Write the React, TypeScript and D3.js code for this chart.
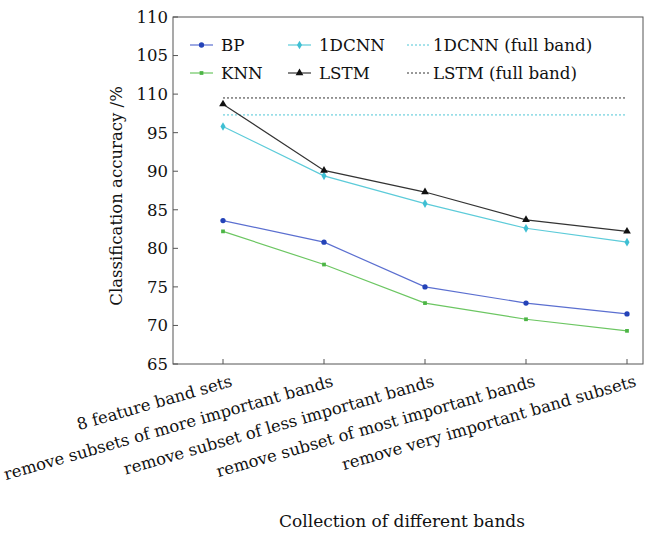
import React, { useEffect, useRef } from 'react';
import * as d3 from 'd3';

const categories = [
  '8 feature band sets',
  'remove subsets of more important bands',
  'remove subset of less important bands',
  'remove subset of most important bands',
  'remove very important band subsets',
];

const bp = [83.6, 80.8, 75.0, 72.9, 71.5];
const knn = [82.2, 77.9, 72.9, 70.8, 69.3];
const cnn1d = [95.8, 89.4, 85.8, 82.6, 80.8];
const lstm = [98.7, 90.1, 87.3, 83.7, 82.2];

const cnnFull = 97.3;
const lstmFull = 99.5;

const yTicks = [65, 70, 75, 80, 85, 90, 95, 100, 105, 110];
// the original figure prints "110" at the 100 mark
const yTickLabels = ['65', '70', '75', '80', '85', '90', '95', '110', '105', '110'];

const FONT = '"DejaVu Serif", serif';

const App = () => {
  const ref = useRef<SVGSVGElement | null>(null);

  useEffect(() => {
    const svg = d3.select(ref.current);
    svg.selectAll('*').remove();

    const left = 173, right = 643, top = 17, bottom = 364;

    const x = d3.scalePoint<string>().domain(categories).range([223, 627]);
    const y = d3.scaleLinear().domain([65, 110]).range([bottom, top]);

    // frame
    svg.append('rect')
      .attr('x', left).attr('y', top)
      .attr('width', right - left).attr('height', bottom - top)
      .attr('fill', 'none').attr('stroke', '#555').attr('stroke-width', 1);

    // y ticks
    const yt = svg.append('g');
    yTicks.forEach((v, i) => {
      yt.append('line')
        .attr('x1', left).attr('x2', left + 5)
        .attr('y1', y(v)).attr('y2', y(v))
        .attr('stroke', '#555');
      yt.append('text')
        .attr('x', left - 5).attr('y', y(v))
        .attr('dy', '0.36em')
        .attr('text-anchor', 'end')
        .attr('font-family', FONT).attr('font-size', 16.5)
        .attr('fill', '#111')
        .text(yTickLabels[i]);
    });

    // x ticks
    const xt = svg.append('g');
    categories.forEach(c => {
      xt.append('line')
        .attr('x1', x(c)!).attr('x2', x(c)!)
        .attr('y1', bottom).attr('y2', bottom - 5)
        .attr('stroke', '#555');
      xt.append('text')
        .attr('transform', `translate(${x(c)! + 7}, ${bottom + 11}) rotate(-16)`)
        .attr('text-anchor', 'end')
        .attr('dy', '0.7em')
        .attr('font-family', FONT).attr('font-size', 16.4)
        .attr('fill', '#111')
        .text(c);
    });

    // axis titles
    svg.append('text')
      .attr('x', 402).attr('y', 527)
      .attr('text-anchor', 'middle')
      .attr('font-family', FONT).attr('font-size', 17)
      .attr('fill', '#111')
      .text('Collection of different bands');

    svg.append('text')
      .attr('transform', `translate(122, ${y(86.8)}) rotate(-90)`)
      .attr('text-anchor', 'middle')
      .attr('font-family', FONT).attr('font-size', 16.5)
      .attr('fill', '#111')
      .text('Classification accuracy /%');

    // full band reference lines
    const refs = [
      { v: lstmFull, color: '#333' },
      { v: cnnFull, color: '#4fc6d6' },
    ];
    refs.forEach(r => {
      svg.append('line')
        .attr('x1', x(categories[0])!).attr('x2', x(categories[categories.length - 1])!)
        .attr('y1', y(r.v)).attr('y2', y(r.v))
        .attr('stroke', r.color).attr('stroke-width', 1)
        .attr('stroke-dasharray', '2,2');
    });

    const series = [
      { name: 'BP', data: bp, line: '#5b6fd0', mark: '#2443b8', symbol: d3.symbolCircle, size: 22 },
      { name: 'KNN', data: knn, line: '#6cc662', mark: '#4cb545', symbol: d3.symbolSquare, size: 14 },
      { name: '1DCNN', data: cnn1d, line: '#5ccbd9', mark: '#3fbfd3', symbol: d3.symbolDiamond, size: 22 },
      { name: 'LSTM', data: lstm, line: '#333', mark: '#111', symbol: d3.symbolTriangle, size: 26 },
    ];

    const line = d3.line<number>()
      .x((_, i) => x(categories[i])!)
      .y(d => y(d));

    series.forEach(s => {
      svg.append('path')
        .attr('d', line(s.data)!)
        .attr('fill', 'none')
        .attr('stroke', s.line)
        .attr('stroke-width', 1.2);
      svg.selectAll(null)
        .data(s.data)
        .enter()
        .append('path')
        .attr('transform', (d, i) => `translate(${x(categories[i])}, ${y(d)})`)
        .attr('d', d3.symbol().type(s.symbol).size(s.size)()!)
        .attr('fill', s.mark);
    });

    // legend
    const legendItems = [
      { s: series[0], x: 190, y: 45 },
      { s: series[1], x: 190, y: 73 },
      { s: series[2], x: 288, y: 45 },
      { s: series[3], x: 288, y: 73 },
    ];
    legendItems.forEach(li => {
      svg.append('line')
        .attr('x1', li.x).attr('x2', li.x + 23)
        .attr('y1', li.y).attr('y2', li.y)
        .attr('stroke', li.s.line).attr('stroke-width', 1.2);
      svg.append('path')
        .attr('transform', `translate(${li.x + 11.5}, ${li.y})`)
        .attr('d', d3.symbol().type(li.s.symbol).size(li.s.size)()!)
        .attr('fill', li.s.mark);
      svg.append('text')
        .attr('x', li.x + 31).attr('y', li.y)
        .attr('dy', '0.36em')
        .attr('font-family', FONT).attr('font-size', 16.7)
        .attr('fill', '#111')
        .text(li.s.name);
    });

    const refLegend = [
      { label: '1DCNN (full band)', color: '#4fc6d6', y: 45 },
      { label: 'LSTM (full band)', color: '#333', y: 73 },
    ];
    refLegend.forEach(r => {
      svg.append('line')
        .attr('x1', 407).attr('x2', 430)
        .attr('y1', r.y).attr('y2', r.y)
        .attr('stroke', r.color).attr('stroke-dasharray', '2,2');
      svg.append('text')
        .attr('x', 433).attr('y', r.y)
        .attr('dy', '0.36em')
        .attr('font-family', FONT).attr('font-size', 16.7)
        .attr('fill', '#111')
        .text(r.label);
    });
  }, []);

  return (
    <svg
      ref={ref}
      width={645}
      height={533}
      style={{ position: 'absolute', left: 0, top: 0, background: '#fff' }}
    />
  );
};

export default App;
